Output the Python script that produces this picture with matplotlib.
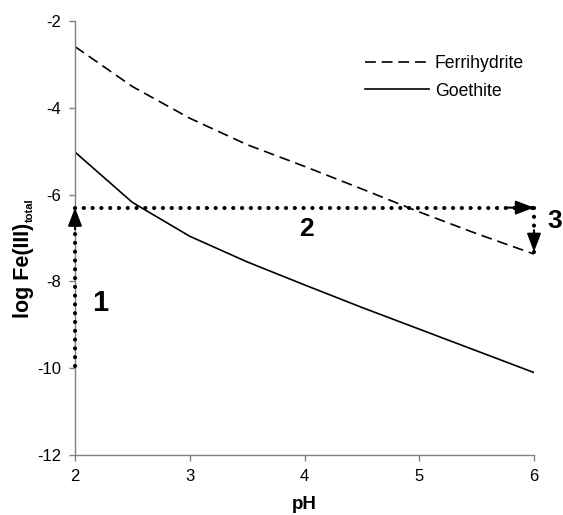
import matplotlib
matplotlib.use("Agg")
import matplotlib.pyplot as plt

plt.rcParams['font.family'] = ['Liberation Sans', 'DejaVu Sans']

ph = [2.0, 2.5, 3.0, 3.5, 4.0, 4.5, 5.0, 5.5, 6.0]
ferrihydrite = [-2.59, -3.51, -4.24, -4.85, -5.35, -5.87, -6.40, -6.90, -7.37]
goethite = [-5.02, -6.18, -6.96, -7.55, -8.08, -8.60, -9.10, -9.60, -10.10]

x_ticks = [2, 3, 4, 5, 6]
y_ticks = [-12, -10, -8, -6, -4, -2]

# path arrows (steps 1, 2, 3)
step1_x = [2.0, 2.0]
step1_y = [-9.95, -6.30]
step2_x = [2.0, 6.0]
step2_y = [-6.30, -6.30]
step3_x = [6.0, 6.0]
step3_y = [-6.30, -7.32]

W, H = 563, 515
fig = plt.figure(figsize=(W / 100, H / 100), dpi=100)
ax = fig.add_axes([75 / W, 1 - 455 / H, (534 - 75) / W, (455 - 21) / H])

ax.plot(ph, ferrihydrite, color='black', lw=1.2, dashes=(6.5, 3.5), label='Ferrihydrite')
ax.plot(ph, goethite, color='black', lw=1.2, label='Goethite')

dot_kw = dict(color='black', lw=3.0, linestyle=(0, (0.01, 2.1)), dash_capstyle='round',
              solid_capstyle='round', clip_on=False, zorder=5)
ax.plot(step1_x, step1_y, **dot_kw)
ax.plot(step2_x, step2_y, **dot_kw)
ax.plot(step3_x, step3_y, **dot_kw)

head = dict(arrowstyle='-|>,head_length=1.1,head_width=0.42', color='black', lw=1.5,
            shrinkA=0, shrinkB=0)
for a in [
    ax.annotate('', xy=(step1_x[1], step1_y[1]), xytext=(step1_x[1], step1_y[1] - 0.5), arrowprops=head),
    ax.annotate('', xy=(step2_x[1], step2_y[1]), xytext=(step2_x[1] - 0.25, step2_y[1]), arrowprops=head),
    ax.annotate('', xy=(step3_x[1], step3_y[1]), xytext=(step3_x[1], step3_y[1] + 0.5), arrowprops=head),
]:
    a.set_annotation_clip(False)
    a.arrow_patch.set_clip_on(False)
    a.set_zorder(6)

ax.text(2.22, -8.5, '1', fontsize=21, fontweight='bold', ha='center', va='center')
ax.text(4.02, -6.8, '2', fontsize=19, fontweight='bold', ha='center', va='center')
ax.text(6.18, -6.6, '3', fontsize=19, fontweight='bold', ha='center', va='center', clip_on=False)

ax.set_xlim(2, 6)
ax.set_ylim(-12, -2)
ax.set_xticks(x_ticks)
ax.set_yticks(y_ticks)
ax.set_xticklabels([str(v) for v in x_ticks])
ax.set_yticklabels([str(v) for v in y_ticks])
ax.tick_params(axis='both', labelsize=12, direction='out', length=4, width=1, color='#808080', pad=6)

for s in ['top', 'right']:
    ax.spines[s].set_visible(False)
for s in ['left', 'bottom']:
    ax.spines[s].set_color('#808080')
    ax.spines[s].set_linewidth(1)

ax.set_xlabel('pH', fontsize=13.5, fontweight='bold', labelpad=9)

# y label: main text plus small subscript
ylab = fig.text(23 / W, 1 - 318 / H, 'log Fe(III)', rotation=90, ha='center', va='bottom',
                fontsize=15.5, fontweight='bold')
fig.canvas.draw()
bb = ylab.get_window_extent()
fig.text(29.5 / W, (bb.y1 + 1) / H, 'total', rotation=90, ha='center', va='bottom',
         fontsize=8, fontweight='bold')

ax.legend(loc='upper left', bbox_to_anchor=(365 / W, 1 - 55 / H), bbox_transform=fig.transFigure,
          frameon=False, fontsize=12.7, handlelength=3.6, handletextpad=0.35, labelspacing=0.6,
          borderaxespad=0, borderpad=0)

fig.savefig('out.png', dpi=100)
